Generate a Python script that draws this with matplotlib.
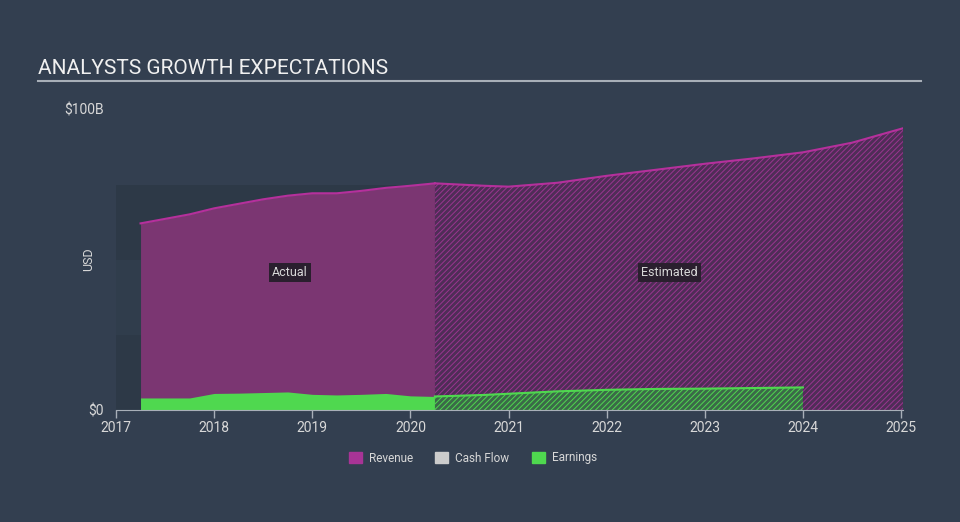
import matplotlib.pyplot as plt
from matplotlib.patches import Rectangle

# Revenue / earnings in $B, x in fractional years
rev_act_x = [2017.25, 2017.5, 2017.75, 2018.0, 2018.25, 2018.5, 2018.75, 2019.0, 2019.25, 2019.5, 2019.75, 2020.0, 2020.25]
rev_act_y = [62.0, 63.5, 65.0, 67.0, 68.5, 70.0, 71.2, 72.0, 72.0, 72.8, 73.8, 74.5, 75.3]
rev_est_x = [2020.25, 2020.75, 2021.0, 2021.5, 2022.0, 2022.5, 2023.0, 2023.5, 2024.0, 2024.5, 2025.02]
rev_est_y = [75.3, 74.5, 74.2, 75.5, 77.8, 79.8, 81.8, 83.6, 85.6, 88.8, 93.6]

earn_act_x = [2017.25, 2017.5, 2017.75, 2018.0, 2018.25, 2018.5, 2018.75, 2019.0, 2019.25, 2019.5, 2019.75, 2020.0, 2020.25]
earn_act_y = [4.0, 4.0, 4.0, 5.5, 5.6, 5.8, 6.0, 5.2, 5.0, 5.2, 5.5, 4.7, 4.5]
earn_est_x = [2020.25, 2020.75, 2021.0, 2021.5, 2022.0, 2022.5, 2023.0, 2023.5, 2024.0]
earn_est_y = [4.5, 5.0, 5.4, 6.2, 6.7, 7.0, 7.1, 7.3, 7.5]

years = [2017, 2018, 2019, 2020, 2021, 2022, 2023, 2024, 2025]

bg = "#333f50"
txt = "#d8d8d8"
rev_line = "#b5309c"
rev_fill = "#7b3672"
green = "#4fd84f"

plt.rcParams["font.family"] = ["Roboto", "DejaVu Sans"]
plt.rcParams["hatch.linewidth"] = 0.7

fig = plt.figure(figsize=(9.6, 5.22), dpi=100)
fig.patch.set_facecolor(bg)
ax = fig.add_axes([116 / 960, (522 - 410) / 522, (903 - 116) / 960, (410 - 109) / 522])
ax.set_facecolor(bg)

# darker "past" bands behind actuals
ax.add_patch(Rectangle((2017, 0), 3.25, 25, facecolor="#2d3947", edgecolor="none", zorder=0))
ax.add_patch(Rectangle((2017, 25), 3.25, 25, facecolor="#303d4c", edgecolor="none", zorder=0))
ax.add_patch(Rectangle((2017, 50), 3.25, 24.8, facecolor="#2d3947", edgecolor="none", zorder=0))

# revenue
ax.fill_between(rev_act_x, rev_act_y, color=rev_fill, lw=0, zorder=1)
ax.plot(rev_act_x, rev_act_y, color=rev_line, lw=1.5, zorder=3)
ax.fill_between(rev_est_x, rev_est_y, facecolor="#4f2d57", edgecolor="#9a3590",
                hatch="//////", lw=0, zorder=1)
ax.plot(rev_est_x, rev_est_y, color=rev_line, lw=1.5, zorder=3)

# earnings
ax.fill_between(earn_act_x, earn_act_y, color=green, lw=0, zorder=2)
ax.fill_between(earn_est_x, earn_est_y, facecolor="#3b6a48", edgecolor=green,
                hatch="//////", lw=0, zorder=2)
ax.plot(earn_est_x, earn_est_y, color=green, lw=1.5, zorder=3)

ax.set_xlim(2017, 2025.02)
ax.set_ylim(0, 100)
ax.set_xticks(years)
ax.set_xticklabels([str(y) for y in years])
ax.set_yticks([0, 100])
ax.set_yticklabels(["$0", "$100B"])
ax.tick_params(axis="x", colors="#a8afb8", labelcolor=txt, labelsize=10, length=6, width=1, pad=2)
ax.tick_params(axis="y", length=0, labelcolor=txt, labelsize=10, pad=9)
for s in ["top", "right", "left"]:
    ax.spines[s].set_visible(False)
ax.spines["bottom"].set_color("#a8afb8")
ax.set_ylabel("USD", color=txt, fontsize=9)
ax.yaxis.set_label_coords(-0.027, 0.5)

box = dict(boxstyle="square,pad=0.25", facecolor="#2a1f2e", edgecolor="none")
ax.text(2018.77, 45.7, "Actual", color=txt, fontsize=9, ha="center", va="center", bbox=box, zorder=5)
ax.text(2022.64, 45.7, "Estimated", color=txt, fontsize=9, ha="center", va="center", bbox=box, zorder=5)

# title and underline
fig.text(38 / 960, 1 - 68 / 522, "ANALYSTS GROWTH EXPECTATIONS", color="#f0f0f0", fontsize=15, va="center")
fig.add_artist(plt.Line2D([38 / 960, 921 / 960], [1 - 81 / 522, 1 - 81 / 522], color="#a8afb8", lw=1.5))

# legend
handles = [Rectangle((0, 0), 1, 1, color="#a83496"),
           Rectangle((0, 0), 1, 1, color="#cccccc"),
           Rectangle((0, 0), 1, 1, color=green)]
leg = fig.legend(handles, ["Revenue", "Cash Flow", "Earnings"], loc="center",
                 bbox_to_anchor=(473 / 960, 1 - 458 / 522), ncol=3, frameon=False,
                 fontsize=8.5, handlelength=1.1, handleheight=1.1, columnspacing=1.9, handletextpad=0.6)
for t in leg.get_texts():
    t.set_color(txt)

fig.savefig("out.png", dpi=100, facecolor=bg)
